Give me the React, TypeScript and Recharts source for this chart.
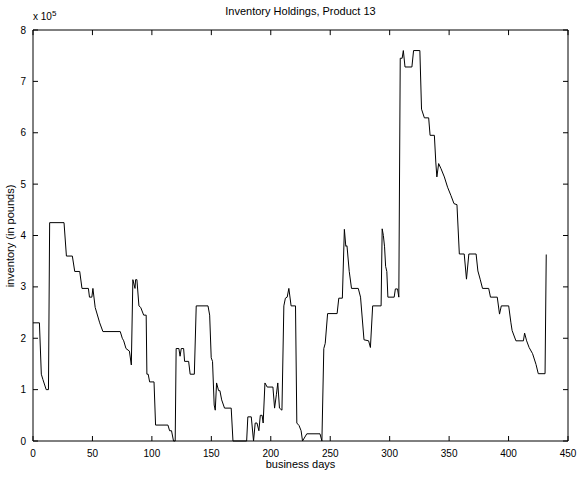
import { LineChart, Line, XAxis, YAxis, ReferenceLine } from "recharts";

// business day of each vertex, and inventory in units of 1e5 pounds
const days = [
  0, 5.4, 7, 8.3, 11.1, 13, 14, 26.1, 28.1, 33.1, 35.1, 39.3, 41.2, 46.6, 47.5, 49.5, 50.4, 52.3, 56.1, 58.8,
  73.4, 75.1, 76.3, 78.2, 81.1, 82.7, 84, 85.8, 86.3, 87.4, 89.1, 90.6, 93.1, 95.2, 95.8, 96.9, 98.1, 101.8, 103.1, 113.5,
  114.9, 116.5, 118.2, 119.6, 120.4, 122.7, 123.7, 124.7, 126.7, 127.5, 130.9, 132.2, 135.7, 137.3, 147.2, 148.6, 149.9, 151, 152.4, 153.3,
  154.4, 156.1, 157.2, 158.7, 161.1, 166.7, 168.2, 179.7, 180.7, 183.6, 185.5, 186.9, 188.4, 190, 191.2, 192.7, 193.6, 195.1, 197, 201.8,
  203.2, 204.7, 205.9, 207.3, 209.4, 211, 212.3, 213.8, 215.2, 217.1, 220.8, 221.9, 223.8, 225.5, 226.7, 230.3, 241.4, 243, 244.6, 245.8,
  247.8, 255.8, 257.2, 260.2, 261.9, 263.1, 264.1, 266, 267.9, 273.6, 275.5, 278.4, 282.3, 283.8, 285.7, 292.8, 293.7, 294.7, 295.7, 296.6,
  297.6, 298.5, 303.8, 304.8, 306.6, 307.7, 308.9, 310.5, 311.5, 312.9, 318.7, 320.1, 325.4, 326.8, 329.2, 332.8, 334, 337.6, 338.8, 339.7,
  341.2, 343.2, 346, 348.7, 351.5, 354.1, 356.6, 358.6, 362.7, 364.6, 366.6, 372.7, 374.2, 376.1, 378.1, 383.3, 384.8, 390.5, 392.4, 393.9,
  400.1, 402, 403, 406.2, 412.5, 413.5, 415.2, 417.3, 420.2, 423.1, 425, 430.7, 431.7,
];
const inventory = [
  2.3, 2.3, 1.3, 1.2, 1.0, 1.0, 4.25, 4.25, 3.6, 3.6, 3.3, 3.3, 2.97, 2.97, 2.8, 2.8, 2.97, 2.6, 2.3, 2.13,
  2.13, 2.0, 1.95, 1.8, 1.75, 1.48, 3.14, 2.97, 3.14, 3.14, 2.63, 2.6, 2.45, 2.45, 1.3, 1.3, 1.15, 1.15, 0.31, 0.31,
  0.2, 0.2, 0, 0, 1.8, 1.8, 1.65, 1.8, 1.8, 1.55, 1.55, 1.3, 1.3, 2.63, 2.63, 2.45, 1.62, 1.55, 0.7, 0.6,
  1.13, 0.98, 0.98, 0.8, 0.64, 0.64, 0, 0, 0.47, 0.47, 0, 0.35, 0.35, 0.2, 0.5, 0.5, 0.35, 1.13, 1.05, 1.05,
  0.64, 0.9, 1.13, 0.64, 0.6, 2.63, 2.78, 2.8, 2.97, 2.63, 2.63, 0.35, 0.3, 0.2, 0, 0.14, 0.14, 0, 1.8, 1.9,
  2.48, 2.48, 2.78, 2.78, 4.12, 3.79, 3.8, 3.3, 2.97, 2.97, 2.8, 1.97, 1.95, 1.82, 2.63, 2.63, 4.13, 4.0, 3.78, 3.4,
  3.3, 2.8, 2.8, 2.96, 2.96, 2.8, 7.45, 7.45, 7.6, 7.28, 7.28, 7.6, 7.6, 6.46, 6.29, 6.29, 5.95, 5.95, 5.43, 5.14,
  5.4, 5.3, 5.14, 4.94, 4.78, 4.62, 4.6, 3.64, 3.64, 3.15, 3.64, 3.64, 3.31, 3.15, 2.97, 2.97, 2.8, 2.8, 2.47, 2.63,
  2.63, 2.3, 2.15, 1.95, 1.95, 2.1, 1.95, 1.82, 1.7, 1.49, 1.31, 1.31, 3.63,
];
const xTicks = [0, 50, 100, 150, 200, 250, 300, 350, 400, 450];
const yTicks = [0, 1, 2, 3, 4, 5, 6, 7, 8];

const data = days.map((d, i) => ({ day: d, v: inventory[i] }));
const font = "Liberation Sans, Arial, sans-serif";

export default function App() {
  return (
    <div style={{ position: "absolute", top: 0, left: 0, width: 577, height: 477, background: "#fff", fontFamily: font }}>
      <div style={{ position: "absolute", top: 5, left: 33, width: 535, textAlign: "center", fontSize: 11, zIndex: 2 }}>
        Inventory Holdings, Product 13
      </div>
      <div style={{ position: "absolute", top: 9, left: 33, fontSize: 10, zIndex: 2 }}>
        x 10<sup style={{ fontSize: 8 }}>5</sup>
      </div>
      <div style={{ position: "absolute", left: 4, top: 236, width: 0, height: 0, zIndex: 2 }}>
        <div style={{ transform: "translate(-50%, -50%) rotate(-90deg)", whiteSpace: "nowrap", fontSize: 11, position: "absolute", left: 6 }}>
          inventory (in pounds)
        </div>
      </div>
      <LineChart width={577} height={477} data={data} margin={{ top: 30, right: 9, bottom: 11, left: 8 }}>
        <XAxis
          dataKey="day"
          type="number"
          domain={[0, 450]}
          ticks={xTicks}
          tickSize={-5}
          tickMargin={14}
          stroke="#000"
          tick={{ fill: "#000", fontSize: 10 }}
          height={25}
          label={{ value: "business days", position: "insideBottom", offset: -2, fill: "#000", fontSize: 11 }}
        />
        <YAxis
          domain={[0, 8]}
          ticks={yTicks}
          tickSize={-5}
          tickMargin={12}
          width={25}
          stroke="#000"
          tick={{ fill: "#000", fontSize: 10 }}
        />
        <ReferenceLine y={8} stroke="#000" ifOverflow="extendDomain" />
        <ReferenceLine x={450} stroke="#000" ifOverflow="extendDomain" />
        {xTicks.map((t) => (
          <ReferenceLine key={"tx" + t} segment={[{ x: t, y: 8 }, { x: t, y: 7.9 }]} stroke="#000" />
        ))}
        {yTicks.map((t) => (
          <ReferenceLine key={"ty" + t} segment={[{ x: 450, y: t }, { x: 445.8, y: t }]} stroke="#000" />
        ))}
        <Line dataKey="v" type="linear" stroke="#000" strokeWidth={1} dot={false} isAnimationActive={false} />
      </LineChart>
    </div>
  );
}
